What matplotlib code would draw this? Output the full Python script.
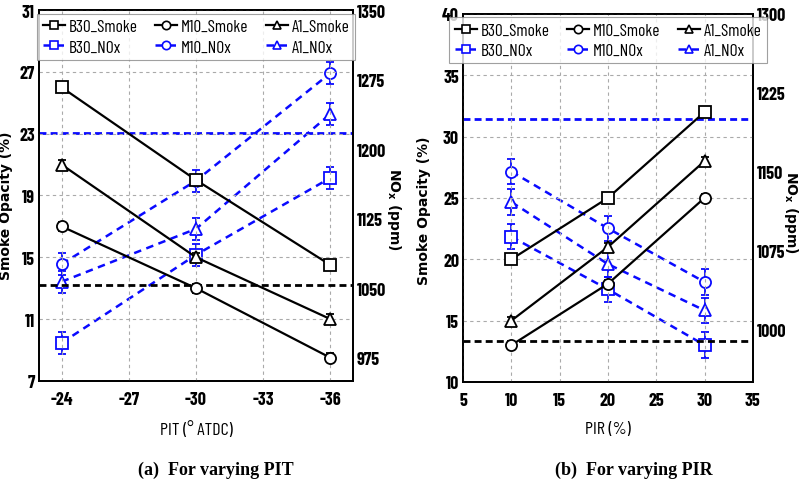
import matplotlib
matplotlib.use("Agg")
import matplotlib.pyplot as plt
from matplotlib.lines import Line2D

plt.rcParams['font.family'] = ["Barlow Condensed", "Liberation Sans", "DejaVu Sans"]
plt.rcParams['axes.unicode_minus'] = False

# (a) varying PIT
pit = [-24, -30, -36]
pit_smoke = {"B30": [26, 20, 14.5], "M10": [17, 13, 8.5], "A1": [21, 15, 11]}
pit_nox = {"B30": [991, 1086, 1169], "M10": [1076, 1166, 1282], "A1": [1057, 1114, 1238]}
pit_base_smoke = 13.2
pit_base_nox = 1217

# (b) varying PIR
pir = [10, 20, 30]
pir_smoke = {"B30": [20, 25, 32], "M10": [13, 18, 25], "A1": [15, 21, 28]}
pir_nox = {"B30": [1088, 1038, 985], "M10": [1150, 1096, 1045], "A1": [1121, 1062, 1018]}
pir_base_smoke = 13.3
pir_base_nox = 1200

smoke_err = 0.3
nox_err = 12
markers = {"B30": "s", "M10": "o", "A1": "^"}
blue = "#0a0aff"
dash = (0, (3, 2.2))

fig = plt.figure(figsize=(8, 4.81), dpi=100)


def panel(rect, x, smoke, nox, base_s, base_n, xlim, xticks, ylim, yticks, y2lim, y2ticks,
          xlabel, caption, capx, lab_l, lab_r):
    ax = fig.add_axes(rect)
    ax2 = ax.twinx()
    for k in ["B30", "M10", "A1"]:
        ax.errorbar(x, smoke[k], yerr=smoke_err, color="black", marker=markers[k], mfc="white",
                    ms=8, mew=1.3, lw=1.6, capsize=3, elinewidth=1.2, zorder=3)
        ax2.errorbar(x, nox[k], yerr=nox_err, color=blue, marker=markers[k], mfc="white",
                     ms=8, mew=1.3, lw=1.8, ls=dash, capsize=3, elinewidth=1.3, zorder=3)
    ax.axhline(base_s, color="black", lw=2, ls=(0, (2.5, 1.5)), zorder=2)
    ax2.axhline(base_n, color=blue, lw=2, ls=(0, (2.5, 1.5)), zorder=2)

    ax.set_xlim(*xlim)
    ax.set_xticks(xticks)
    ax.set_ylim(*ylim)
    ax.set_yticks(yticks)
    ax2.set_ylim(*y2lim)
    ax2.set_yticks(y2ticks)
    ax.grid(True, color="#aaaaaa", ls=(0, (3, 3)), lw=0.8)
    for a in (ax, ax2):
        a.tick_params(direction="in", length=0, labelsize=13, pad=3)
        for lab in a.get_xticklabels() + a.get_yticklabels():
            lab.set_fontweight("bold")
        for s in a.spines.values():
            s.set_linewidth(1.3)
    ax.tick_params(axis="x", pad=7)
    ax.set_zorder(ax2.get_zorder() + 1)
    ax.patch.set_visible(False)

    ax.set_ylabel("Smoke Opacity (%)", family=["DejaVu Sans"], fontsize=10, fontweight="bold")
    ax.yaxis.set_label_coords(lab_l[0], lab_l[1])
    ax2.set_ylabel("NO$_\\mathbf{x}$ (ppm)", family=["DejaVu Sans"], fontsize=10, fontweight="bold",
                   rotation=270, va="center")
    ax2.yaxis.set_label_coords(lab_r[0], lab_r[1])
    ax.set_xlabel(xlabel, fontsize=13)
    ax.xaxis.set_label_coords(0.5, -0.105)

    handles = []
    labels = []
    for k in ["B30", "M10", "A1"]:
        handles.append(Line2D([], [], color="black", marker=markers[k], mfc="white", ms=6, mew=1.2, lw=1.6))
        labels.append(k + "_Smoke")
        handles.append(Line2D([], [], color=blue, marker=markers[k], mfc="white", ms=6, mew=1.2, lw=1.8, ls=dash))
        labels.append(k + "_NOx")
    leg = ax.legend(handles, labels, ncol=3, loc="upper center",
                    bbox_to_anchor=(0.5, 0.995), fontsize=12.5, frameon=True, fancybox=False,
                    edgecolor="#888888", handlelength=1.3, handletextpad=0.2, columnspacing=1.0,
                    borderpad=0.3, labelspacing=0.3, borderaxespad=0.1)
    leg.get_frame().set_linewidth(0.8)
    fig.text(capx, 0.023, caption, family=["Liberation Serif", "DejaVu Serif"], fontsize=13,
             fontweight="bold", ha="center", va="center")


panel([0.049, 0.206, 0.392, 0.771], pit, pit_smoke, pit_nox, pit_base_smoke, pit_base_nox,
      (-23, -37), [-24, -27, -30, -33, -36], (7, 31), [7, 11, 15, 19, 23, 27, 31],
      (950, 1350), [975, 1050, 1125, 1200, 1275, 1350], "PIT (\u00b0 ATDC)",
      "(a)  For varying PIT", 0.27, (-0.085, 0.474), (1.13, 0.464))
panel([0.579, 0.204, 0.362, 0.765], pir, pir_smoke, pir_nox, pir_base_smoke, pir_base_nox,
      (5, 35), [5, 10, 15, 20, 25, 30, 35], (10, 40), [10, 15, 20, 25, 30, 35, 40],
      (950, 1300), [1000, 1075, 1150, 1225, 1300], "PIR (%)",
      "(b)  For varying PIR", 0.7925, (-0.11, 0.467), (1.132, 0.462))

fig.savefig("out.png", dpi=100)
